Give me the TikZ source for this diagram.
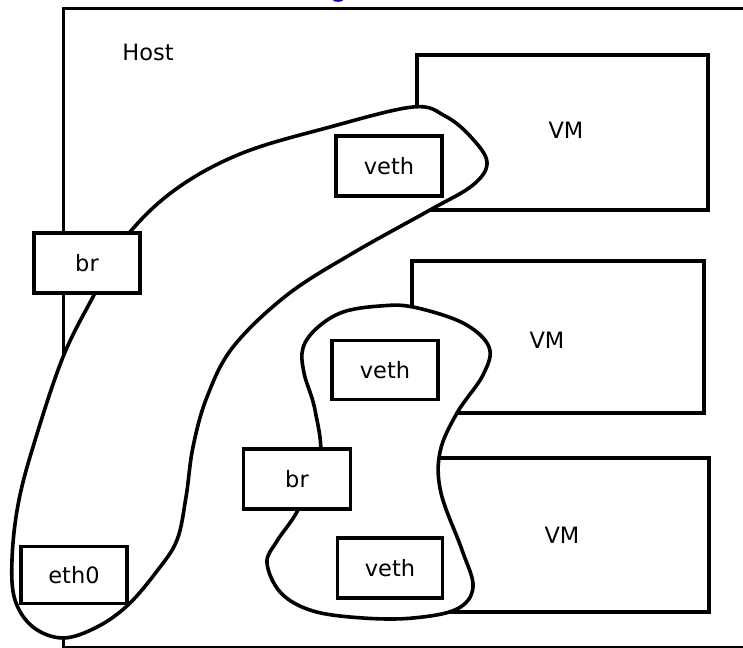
\documentclass[tikz,border=0pt]{standalone}
\usepackage{fontspec}
\setmainfont{DejaVu Sans}
\begin{document}
\begin{tikzpicture}[x=1pt,y=-1pt,
  frame/.style={draw=black,line width=3.6pt},
  blob/.style={draw=black,fill=white,line width=3.6pt},
  box/.style={draw=black,fill=white,line width=3.6pt,inner sep=0pt,font=\fontsize{22.5}{26}\selectfont},
  lbl/.style={font=\fontsize{22.5}{26}\selectfont,inner sep=0pt}]
\useasboundingbox (0,0) rectangle (743,647);
% title fragment
\node[anchor=base,text=blue!75!black,font=\fontsize{28}{32}\selectfont,inner sep=0pt] (title) at (339,-3) {g};
% host
\draw[frame] (63.5,8.5) rectangle (790,647.5);
\node[lbl] (host) at (148,52) {Host};
% VMs
\draw[frame] (417,55) rectangle (708,210);
\draw[frame] (412,261) rectangle (704,413);
\draw[frame] (437,458) rectangle (709,612);
% big blob
\draw[blob] plot[smooth cycle,tension=0.6] coordinates {
 (122,242) (172,192) (240,154) (330,127) (413,107) (445,116) (470,136)
 (487,162) (473,185) (430,210) (353,253) (287,295) (233,347) (207,397)
 (193,447) (186,497) (177,540) (157,571) (128,605) (97,627) (63,638) (33,627)
 (15,600) (12,560) (18,505) (33,447) (63,357) (95,293)};
% small blob
\draw[blob] plot[smooth cycle,tension=0.6] coordinates {
 (320,460) (315,410) (304,373) (303,348) (317,328) (343,312) (380,306) (413,307)
 (463,323) (489,347) (483,375) (457,413) (440,452) (441,493) (462,550) (473,587)
 (457,609) (413,618) (363,618) (313,611) (281,593) (267,563) (277,541) (298,510)};
% boxes
\node[box,minimum width=106pt,minimum height=60pt] (veth1) at (389,166) {veth};
\node[box,minimum width=106pt,minimum height=60pt] (br1) at (87,263) {br};
\node[box,minimum width=106pt,minimum height=57pt] (eth0) at (74,575) {eth0};
\node[box,minimum width=106pt,minimum height=59pt] (veth2) at (385,370) {veth};
\node[box,minimum width=107pt,minimum height=60pt] (br2) at (297,479) {br};
\node[box,minimum width=105pt,minimum height=60pt] (veth3) at (390,568) {veth};
% VM labels
\node[lbl] (vm1) at (566,130) {VM};
\node[lbl] (vm2) at (547,340) {VM};
\node[lbl] (vm3) at (562,535) {VM};
\end{tikzpicture}
\end{document}
